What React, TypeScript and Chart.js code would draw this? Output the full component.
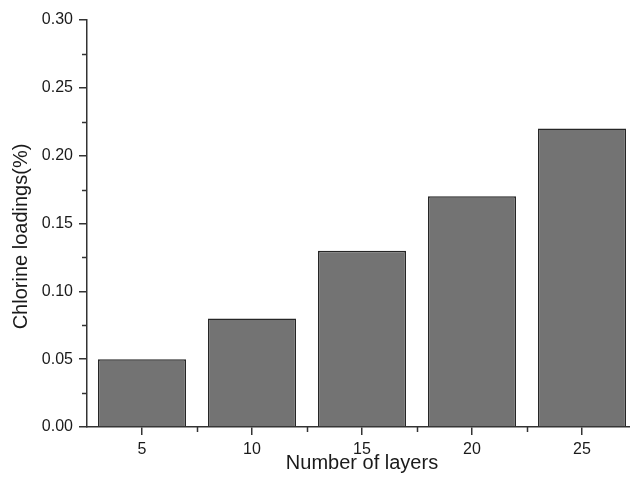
import { useEffect, useRef } from 'react';
import { Chart, registerables } from 'chart.js';

Chart.register(...registerables);

const categories = ['5', '10', '15', '20', '25'];
const loadings = [0.05, 0.08, 0.13, 0.17, 0.22];
const yMin = 0;
const yMax = 0.3;
const yMajorStep = 0.05;
const yMinorStep = 0.025;
const xTitle = 'Number of layers';
const yTitle = 'Chlorine loadings(%)';

const FONT = "'Liberation Sans', Arial, sans-serif";
const AXIS = '#333333';
const TEXT = '#1a1a1a';

const extrasPlugin = {
  id: 'extras',
  afterDraw(chart: any) {
    const { ctx, chartArea } = chart;
    const xs = chart.scales.x;
    const ys = chart.scales.y;
    ctx.save();
    ctx.strokeStyle = AXIS;
    ctx.lineWidth = 1.5;
    // y minor ticks
    for (let v = yMin + yMinorStep; v < yMax; v += yMajorStep) {
      const py = Math.round(ys.getPixelForValue(v)) + 0.5;
      ctx.beginPath();
      ctx.moveTo(chartArea.left - 5, py);
      ctx.lineTo(chartArea.left, py);
      ctx.stroke();
    }
    // x minor ticks between categories
    for (let i = 0; i < categories.length - 1; i++) {
      const px = Math.round((xs.getPixelForValue(i) + xs.getPixelForValue(i + 1)) / 2) + 0.5;
      ctx.beginPath();
      ctx.moveTo(px, chartArea.bottom);
      ctx.lineTo(px, chartArea.bottom + 5);
      ctx.stroke();
    }
    // y title
    ctx.fillStyle = TEXT;
    ctx.font = `20px ${FONT}`;
    ctx.textAlign = 'center';
    ctx.textBaseline = 'middle';
    ctx.translate(21, (chartArea.top + chartArea.bottom) / 2 + 13);
    ctx.rotate(-Math.PI / 2);
    ctx.fillText(yTitle, 0, 0);
    ctx.restore();
  },
};

export default function App() {
  const ref = useRef<HTMLCanvasElement | null>(null);

  useEffect(() => {
    if (!ref.current) return;
    const chart = new Chart(ref.current, {
      type: 'bar',
      data: {
        labels: categories,
        datasets: [
          {
            data: loadings,
            backgroundColor: '#737373',
            borderColor: '#262626',
            borderWidth: 1.5,
            barPercentage: 0.8,
            categoryPercentage: 1,
          },
        ],
      },
      options: {
        responsive: false,
        animation: false,
        devicePixelRatio: 1,
        layout: { padding: { top: 20, right: 3, left: 0, bottom: 0 } },
        plugins: {
          legend: { display: false },
          tooltip: { enabled: false },
        },
        scales: {
          x: {
            offset: true,
            grid: {
              offset: false,
              drawOnChartArea: false,
              drawTicks: true,
              tickLength: 8,
              color: AXIS,
              lineWidth: 1.5,
            },
            border: { display: true, color: AXIS, width: 1.5 },
            ticks: {
              color: TEXT,
              font: { family: FONT, size: 16 },
              padding: 5,
              maxRotation: 0,
            },
            title: {
              display: true,
              text: xTitle,
              color: TEXT,
              font: { family: FONT, size: 20 },
              padding: { top: 0, bottom: 14 },
            },
            afterFit(scale: any) {
              scale.height = 62;
            },
          },
          y: {
            min: yMin,
            max: yMax,
            grid: {
              drawOnChartArea: false,
              drawTicks: true,
              tickLength: 8,
              color: AXIS,
              lineWidth: 1.5,
            },
            border: { display: true, color: AXIS, width: 1.5 },
            ticks: {
              stepSize: yMajorStep,
              color: TEXT,
              font: { family: FONT, size: 16 },
              padding: 6,
              callback: (v: any) => Number(v).toFixed(2),
            },
            afterFit(scale: any) {
              scale.width = 87;
            },
          },
        },
      },
      plugins: [extrasPlugin],
    });
    return () => chart.destroy();
  }, []);

  return (
    <div
      style={{
        position: 'fixed',
        left: 0,
        top: 0,
        width: 630,
        height: 489,
        overflow: 'hidden',
        background: '#ffffff',
      }}
    >
      <canvas ref={ref} width={640} height={489} style={{ display: 'block', width: 640, height: 489 }} />
    </div>
  );
}
